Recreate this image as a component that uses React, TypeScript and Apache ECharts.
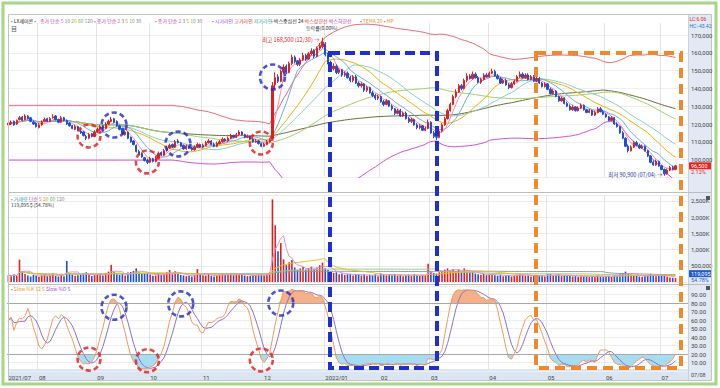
import React, { useEffect, useRef } from "react";
import * as echarts from "echarts";

// ---------- DATA (prices in thousands of won, volumes in thousands of shares) ----------
const monthDays: [string, number[]][] = [
  ["2021/07", [16, 19, 20, 21, 22, 23, 26, 27, 28, 29, 30]],
  ["2021/08", [2, 3, 4, 5, 6, 9, 10, 11, 12, 13, 17, 18, 19, 20, 23, 24, 25, 26, 27, 30, 31]],
  ["2021/09", [1, 2, 3, 6, 7, 8, 9, 10, 13, 14, 15, 16, 17, 23, 24, 27, 28, 29, 30]],
  ["2021/10", [1, 5, 6, 7, 8, 12, 13, 14, 15, 18, 19, 20, 21, 22, 25, 26, 27, 28, 29]],
  ["2021/11", [1, 2, 3, 4, 5, 8, 9, 10, 11, 12, 15, 16, 17, 18, 19, 22, 23, 24, 25, 26, 29, 30]],
  ["2021/12", [1, 2, 3, 6, 7, 8, 9, 10, 13, 14, 15, 16, 17, 20, 21, 22, 23, 24, 27, 28, 29, 30]],
  ["2022/01", [3, 4, 5, 6, 7, 10, 11, 12, 13, 14, 17, 18, 19, 20, 21, 24, 25, 26, 27, 28]],
  ["2022/02", [3, 4, 7, 8, 9, 10, 11, 14, 15, 16, 17, 18, 21, 22, 23, 24, 25, 28]],
  ["2022/03", [2, 3, 4, 7, 8, 10, 11, 14, 15, 16, 17, 18, 21, 22, 23, 24, 25, 28, 29, 30, 31]],
  ["2022/04", [1, 4, 5, 6, 7, 8, 11, 12, 13, 14, 15, 18, 19, 20, 21, 22, 25, 26, 27, 28, 29]],
  ["2022/05", [2, 3, 4, 6, 9, 10, 11, 12, 13, 16, 17, 18, 19, 20, 23, 24, 25, 26, 27, 30, 31]],
  ["2022/06", [2, 3, 7, 8, 9, 10, 13, 14, 15, 16, 17, 20, 21, 22, 23, 24, 27, 28, 29, 30]],
  ["2022/07", [1, 4, 5, 6, 7, 8]],
];

const opens = [
  119.5, 120, 121.5, 120, 122.5, 124, 122.5, 124.5, 123.5, 121, 120.5,
  118, 119.5, 121.5, 123, 121.5, 123.5, 124.5, 122.5, 121, 123.5, 122, 120.5, 119, 117, 118.5, 116, 115.5, 113, 112, 114.5, 113,
  115.5, 117, 119, 117.5, 120, 121.5, 123, 121.5, 119, 117.5, 114, 115.5, 112.5, 110.5, 108, 104.5, 103.5, 101, 99.5,
  98.5, 100.5, 99, 101, 104, 102.5, 105, 106.5, 108.5, 107, 110.5, 109.5, 108, 106, 107.5, 106.5, 105.5, 107, 108.5,
  107, 108, 109.5, 110.5, 108.5, 107.5, 109, 110, 111.5, 110.5, 112, 113.5, 112.5, 114, 115.5, 114, 112.5, 113, 111.5, 110, 110.5, 109,
  107.5, 108.5, 110, 112, 142, 146.5, 144, 149.5, 152.5, 149, 154, 157.5, 155.5, 153.5, 156, 158.5, 156.5, 159.5, 161.5, 158, 162.5, 163.5,
  165, 159, 154.5, 151, 152.5, 149, 150.5, 147.5, 148.5, 146, 144.5, 146.5, 143, 141.5, 142.5, 139, 140.5, 137.5, 136, 134.5,
  135.5, 132.5, 131, 133, 130, 128.5, 126, 127.5, 124.5, 126, 123, 121.5, 122.5, 119.5, 118, 119, 116.5, 117.5,
  121, 115, 113, 112.5, 116, 119.5, 123, 127.5, 131, 135.5, 138, 141.5, 140, 144.5, 147, 145.5, 148, 146, 143.5, 145, 147.5,
  146.5, 148.5, 149.5, 147, 145.5, 143, 144.5, 142, 140.5, 142.5, 144, 146.5, 148, 146, 147.5, 145, 146.5, 144, 145.5, 143, 141,
  142.5, 139.5, 137, 138.5, 135.5, 133, 134.5, 131.5, 130, 128, 129.5, 127.5, 129, 130.5, 128, 126.5, 127.5, 125, 126.5, 128.5, 127,
  125.5, 124, 122, 123.5, 120, 118.5, 115, 112, 107.5, 105, 107, 109.5, 108, 106.5, 107.5, 105, 102, 98.5, 97, 99,
  96.5, 94.5, 92, 94, 95.5, 94.5,
];

const closes = [
  120.5, 121, 119.5, 122, 123.5, 122, 124.5, 123, 121.5, 120, 118.5,
  119.5, 121, 122.5, 121.5, 123, 124, 122.5, 121, 123.5, 122, 120, 119, 117.5, 118.5, 116.5, 115, 113.5, 112, 114, 113, 115.5,
  117, 118.5, 117.5, 120, 121.5, 122.5, 121, 119, 117, 114.5, 115.5, 112, 110, 108.5, 104.5, 103, 101.5, 99.5, 98.5,
  100.5, 99, 101, 103.5, 102.5, 105, 106.5, 108, 107, 110, 109.5, 107.5, 106, 107.5, 106.5, 105.5, 107, 108.5, 107,
  108, 109.5, 110.5, 108.5, 107.5, 109, 110, 111.5, 110.5, 112, 113.5, 112.5, 114, 115.5, 114, 112.5, 113, 111.5, 110, 110.5, 109, 107.5,
  108.5, 110, 111, 141.5, 146, 144, 149.5, 152, 149, 154, 157.5, 155, 153.5, 156, 158.5, 156.5, 159.5, 161, 158, 162.5, 164, 166,
  159, 154.5, 151, 152.5, 149, 150.5, 147.5, 148.5, 146, 144.5, 146.5, 143, 141.5, 142.5, 139, 140.5, 137.5, 136, 134.5, 135.5,
  132.5, 131, 133, 130, 128.5, 126, 127.5, 124.5, 126, 123, 121.5, 122.5, 119.5, 118, 119, 116.5, 117.5, 121,
  115, 113, 112.5, 116, 119.5, 123, 127.5, 131, 135.5, 138, 141.5, 140, 144.5, 147, 145.5, 148, 146, 143.5, 145, 147.5, 146.5,
  148.5, 149.5, 147, 145.5, 143, 144.5, 142, 140.5, 142.5, 144, 146.5, 148, 146, 147.5, 145, 146.5, 144, 145.5, 143, 141, 142.5,
  139.5, 137, 138.5, 135.5, 133, 134.5, 131.5, 130, 128, 129.5, 127.5, 129, 130.5, 128, 126.5, 127.5, 125, 126.5, 128.5, 127, 125.5,
  124, 122, 123.5, 120, 118.5, 115, 112, 107.5, 105, 107, 109.5, 108, 106.5, 107.5, 105, 102, 98.5, 97, 99, 96.5,
  94.5, 92, 94, 95.5, 94.5, 96.5,
];

const highs = [
  121.5, 122, 122, 122.5, 124.5, 124.5, 125.5, 125, 124, 122, 121,
  120.5, 122, 123.5, 123.5, 124, 125.5, 125, 123, 124.5, 124, 122.5, 121, 119.5, 119.5, 119, 117, 116, 114, 115, 115, 116.5,
  118, 119.5, 119.5, 121, 122.5, 124, 123.5, 122, 119.5, 118, 116.5, 116, 113, 111, 108.5, 105.5, 104, 101.5, 100.5,
  101.5, 101, 102, 104.5, 104.5, 106, 107.5, 109, 109, 111, 111.5, 110, 108.5, 108.5, 108, 107, 108, 109.5, 109,
  109, 110.5, 111.5, 111, 109.5, 110, 111, 112.5, 112, 113, 114.5, 114, 115, 116.5, 116, 114.5, 114, 113.5, 112, 111.5, 111, 109.5,
  109.5, 111, 112, 143.5, 149, 148, 150.5, 153.5, 153.5, 155, 159, 158.5, 156, 157, 160, 159.5, 160.5, 162.5, 162, 163.5, 165.5, 168.5,
  166, 160, 155.5, 154, 153.5, 151.5, 151, 149.5, 149.5, 147, 147.5, 147.5, 144, 143.5, 143, 141.5, 141, 138.5, 137, 136.5,
  136, 133.5, 134, 133.5, 131, 129, 128.5, 128.5, 127, 127, 124, 123.5, 123, 120.5, 120, 119.5, 118.5, 122.5,
  121.5, 116, 114, 117, 120.5, 124, 128.5, 132, 136.5, 139.5, 142.5, 142.5, 145.5, 148.5, 148, 149.5, 149, 147, 146, 148.5, 148.5,
  149.5, 151, 150.5, 148, 146.5, 145.5, 145.5, 143, 143.5, 145, 147.5, 149.5, 149, 148.5, 148.5, 147.5, 147.5, 146.5, 146.5, 143.5, 143.5,
  143, 140.5, 139.5, 139, 136, 135.5, 135, 132.5, 131, 130.5, 130, 130, 131.5, 131, 128.5, 128.5, 128, 127.5, 129.5, 129.5, 128,
  126, 124.5, 124.5, 124, 121, 119, 116, 112.5, 108.5, 108, 110.5, 110.5, 109, 108.5, 108, 105.5, 102.5, 99.5, 100, 99.5,
  97, 95, 95, 96.5, 96.5, 97,
];

const lows = [
  119, 119.5, 119, 119.5, 122, 121.5, 122, 122.5, 121, 119.5, 118,
  117.5, 119, 121, 121, 121, 123, 122, 120.5, 120.5, 121.5, 119.5, 118.5, 117, 116.5, 116, 114.5, 113, 111, 111.5, 112.5, 112.5,
  115, 116.5, 117, 117, 119.5, 121, 120.5, 118.5, 116.5, 114, 113.5, 111.5, 109.5, 108, 104, 102.5, 101, 99, 97.5,
  98, 98.5, 98.5, 100.5, 102, 102, 104.5, 106, 106.5, 106.5, 109, 107, 105.5, 105.5, 106, 105, 105, 106.5, 106.5,
  106.5, 107.5, 109, 108, 107, 107, 108.5, 109.5, 110, 110, 111.5, 112, 112, 113.5, 113.5, 112, 112, 111, 109.5, 109.5, 108.5, 107,
  107, 108, 109.5, 111.5, 139.5, 143, 143.5, 148.5, 148, 148.5, 153, 154, 152.5, 152.5, 155.5, 155.5, 156, 158.5, 157, 157.5, 161.5, 162.5,
  158, 153.5, 150, 150, 148, 148, 146.5, 146.5, 145.5, 143.5, 143.5, 142.5, 140.5, 140.5, 138, 138, 137, 135, 133.5, 133.5,
  132, 130, 130.5, 129.5, 127.5, 125, 125.5, 124, 124, 122.5, 120.5, 120.5, 119, 117, 117, 116, 116, 117,
  114.5, 112, 111, 112, 115.5, 119, 122.5, 127, 130.5, 134.5, 137.5, 139, 139.5, 143.5, 145, 145, 145.5, 143, 142.5, 144.5, 146,
  146, 148, 146.5, 145, 142.5, 142.5, 141.5, 139.5, 140, 142, 143.5, 146, 145.5, 145.5, 144.5, 144.5, 143.5, 143.5, 142.5, 140.5, 140.5,
  139, 136.5, 136.5, 135, 132.5, 132.5, 131, 129.5, 127.5, 127.5, 127, 127, 128.5, 127.5, 126, 126, 124.5, 124.5, 126, 126.5, 125,
  123.5, 121.5, 121.5, 119.5, 118, 114.5, 111.5, 107, 104, 104.5, 106.5, 107.5, 106, 106, 104.5, 101.5, 98, 96.5, 96.5, 96,
  94, 90.9, 91.5, 93.5, 94, 94,
];

const volumes = [
  210, 180, 230, 190, 690, 320, 250, 200, 170, 220, 190,
  160, 210, 240, 180, 200, 260, 190, 170, 230, 180, 650, 280, 230, 190, 210, 240, 260, 300, 220, 180, 210,
  230, 260, 200, 280, 320, 530, 310, 240, 220, 260, 200, 290, 310, 340, 420, 300, 280, 260, 270,
  230, 190, 200, 260, 220, 270, 300, 370, 240, 330, 260, 220, 200, 180, 190, 170, 210, 400, 230,
  210, 200, 240, 190, 170, 210, 230, 260, 220, 240, 270, 210, 250, 280, 230, 200, 180, 190, 220, 200, 230, 240,
  210, 260, 300, 2550, 1750, 950, 1200, 700, 520, 610, 680, 450, 380, 420, 460, 380, 430, 470, 400, 450, 520, 600,
  420, 380, 330, 280, 300, 240, 260, 220, 240, 250, 200, 240, 230, 200, 240, 190, 220, 200, 240, 180,
  260, 230, 200, 220, 210, 250, 190, 220, 180, 210, 230, 180, 240, 210, 190, 220, 200, 560,
  330, 280, 260, 300, 350, 380, 420, 360, 400, 340, 380, 300, 420, 360, 290, 310, 260, 240, 220, 250, 210,
  230, 250, 210, 190, 220, 180, 200, 210, 170, 200, 230, 260, 210, 190, 200, 170, 190, 180, 200, 210, 170,
  240, 250, 190, 220, 240, 180, 210, 200, 210, 170, 180, 160, 190, 170, 170, 150, 180, 160, 200, 170, 150,
  180, 190, 160, 210, 200, 240, 280, 320, 260, 230, 210, 190, 170, 160, 190, 220, 250, 210, 180, 200,
  190, 230, 170, 140, 130, 119.095,
];

// right-axis price tick labels (thousands of won)
const priceTicks = [100, 110, 120, 130, 140, 150, 160, 170];

// dashed-circle annotations (category index, value)
const priceCircleIdx = [29, 38, 50, 61, 91, 95];
const priceCircleVal = [113.3, 119.4, 98.7, 108.8, 109.3, 146.4];
const priceCircleCol = ["red", "blue", "red", "blue", "red", "blue"];
const stochCircleIdx = [29, 38, 50, 62, 91, 98];
const stochCircleVal = [14, 75, 12, 79, 13, 80];
const stochCircleCol = ["red", "blue", "red", "blue", "red", "blue"];

// ---------- helpers ----------
const FONT = '"Noto Sans CJK KR", "Noto Sans", sans-serif';
const NUMFONT = 'Roboto, "Noto Sans", sans-serif';

const dates: string[] = monthDays.flatMap(([ym, ds]) =>
  ds.map((d) => `${ym}/${String(d).padStart(2, "0")}`)
);
const monthStart = new Set<number>();
{
  let k = 0;
  monthDays.forEach(([, ds], mi) => {
    if (mi > 0) monthStart.add(k);
    k += ds.length;
  });
}
const xData = [...dates, "+1", "+2", "+3", "+4"];

function sma(src: number[], n: number): number[] {
  const out: number[] = [];
  let sum = 0;
  for (let i = 0; i < src.length; i++) {
    sum += src[i];
    if (i >= n) sum -= src[i - n];
    out.push(+(sum / Math.min(i + 1, n)).toFixed(3));
  }
  return out;
}
function bands(src: number[], n: number, k: number) {
  const up: number[] = [];
  const lo: number[] = [];
  for (let i = 0; i < src.length; i++) {
    const s = Math.max(0, i - n + 1);
    const e = Math.max(i, n - 1);
    const w = src.slice(s, e + 1);
    const m = w.reduce((a, b) => a + b, 0) / w.length;
    const sd = Math.sqrt(w.reduce((a, b) => a + (b - m) * (b - m), 0) / w.length);
    up.push(+(m + k * sd).toFixed(3));
    lo.push(+(m - k * sd).toFixed(3));
  }
  return { up, lo };
}

const fastK = closes.map((c, i) => {
  const s = Math.max(0, i - 11);
  let hh = -Infinity;
  let ll = Infinity;
  for (let j = s; j <= i; j++) {
    hh = Math.max(hh, highs[j]);
    ll = Math.min(ll, lows[j]);
  }
  return hh === ll ? 50 : ((c - ll) / (hh - ll)) * 100;
});
const slowK = sma(fastK, 5);
const slowD = sma(slowK, 5);

const RED = "#e41f1b";
const BLUE = "#1d4fd8";

function buildOption(): any {
  const bb = bands(closes, 60, 2);
  const maLine = (data: number[], color: string, xi = 0, yi = 0, w = 1) => ({
    type: "line",
    xAxisIndex: xi,
    yAxisIndex: yi,
    data,
    symbol: "none",
    silent: true,
    lineStyle: { color, width: w },
    z: 3,
  });
  const mkX = (gi: number, showLabel: boolean) => ({
    type: "category",
    gridIndex: gi,
    data: xData,
    boundaryGap: true,
    axisLine: { show: false },
    axisTick: { show: false },
    axisLabel: showLabel
      ? {
          show: true,
          interval: (idx: number) => idx === 0 || monthStart.has(idx),
          formatter: (v: string, idx: number) => {
            if (idx === 0) return v.slice(0, 7);
            const m = v.slice(5, 7);
            return m === "01" ? v.slice(0, 7) : m;
          },
          fontSize: 6,
          fontFamily: NUMFONT,
          color: "#444",
          align: "left",
          margin: 3,
        }
      : { show: false },
    splitLine: {
      show: true,
      interval: (idx: number) => monthStart.has(idx),
      lineStyle: { color: "#e4e4e4", width: 1 },
    },
  });
  const yLab = { fontSize: 6, fontFamily: NUMFONT, color: "#444", margin: 3 };
  return {
    animation: false,
    backgroundColor: "#ffffff",
    textStyle: { fontFamily: FONT },
    grid: [
      { left: 7, right: 32, top: 17.2, height: 160.2 },
      { left: 7, right: 32, top: 195, height: 87 },
      { left: 7, right: 32, top: 286, height: 85 },
    ],
    xAxis: [mkX(0, false), mkX(1, false), mkX(2, true)],
    yAxis: [
      {
        type: "value",
        gridIndex: 0,
        position: "right",
        min: 90,
        max: 180,
        interval: 10,
        axisLine: { show: false },
        axisTick: { show: false },
        axisLabel: { show: false },
        splitLine: { lineStyle: { color: "#efefef" } },
      },
      {
        type: "value",
        gridIndex: 1,
        position: "right",
        min: 0,
        max: 2685,
        interval: 500,
        axisLine: { show: false },
        axisTick: { show: false },
        axisLabel: {
          ...yLab,
          formatter: (v: number) =>
            v === 0 || v > 2500 ? "" : v >= 1000 ? `${v.toLocaleString("en-US")}K` : (v * 1000).toLocaleString("en-US"),
        },
        splitLine: { lineStyle: { color: "#ececec" } },
      },
      {
        type: "value",
        gridIndex: 2,
        position: "right",
        min: 0,
        max: 100,
        interval: 10,
        axisLine: { show: false },
        axisTick: { show: false },
        axisLabel: {
          ...yLab,
          formatter: (v: number) => (v > 0 && v < 100 ? v.toFixed(2) : ""),
        },
        splitLine: { lineStyle: { color: "#eeeeee" } },
      },
    ],
    series: [
      maLine(bb.up, "#e46a78"),
      maLine(bb.lo, "#d44fd0"),
      maLine(sma(closes, 120), "#6e6b3a"),
      maLine(sma(closes, 60), "#9fcf6a"),
      maLine(sma(closes, 30), "#86cfc8"),
      maLine(sma(closes, 20), "#e8b400"),
      maLine(sma(closes, 10), "#6aaee6"),
      maLine(sma(closes, 5), "#f38fb5"),
      {
        type: "candlestick",
        xAxisIndex: 0,
        yAxisIndex: 0,
        barWidth: 1.8,
        z: 5,
        data: closes.map((c, i) => [opens[i], c, lows[i], highs[i]]),
        itemStyle: { color: RED, color0: BLUE, borderColor: RED, borderColor0: BLUE, borderWidth: 1 },
      },
      {
        type: "scatter",
        xAxisIndex: 0,
        yAxisIndex: 0,
        silent: true,
        z: 20,
        data: priceCircleIdx.map((ix, k) => ({
          value: [ix, priceCircleVal[k]],
          symbolSize: priceCircleCol[k] === "blue" ? 25 : 23,
          itemStyle: {
            color: "rgba(0,0,0,0)",
            borderColor: priceCircleCol[k] === "blue" ? "#1b2bc8" : "#e0191b",
            borderWidth: 2.6,
            borderType: [5, 3],
          },
        })),
      },
      // volume
      {
        type: "bar",
        xAxisIndex: 1,
        yAxisIndex: 1,
        barWidth: 1.6,
        data: volumes.map((v, i) => ({
          value: v,
          itemStyle: { color: closes[i] >= opens[i] ? RED : BLUE },
        })),
      },
      maLine(sma(volumes, 120), "#9a9a9a", 1, 1),
      maLine(sma(volumes, 60), "#8fcf8f", 1, 1),
      maLine(sma(volumes, 20), "#e6c21a", 1, 1),
      maLine(sma(volumes, 5), "#e58fd8", 1, 1),
      // stochastic fills
      {
        type: "line", xAxisIndex: 2, yAxisIndex: 2, stack: "hi", silent: true, symbol: "none",
        data: slowK.map(() => 80), lineStyle: { opacity: 0 },
      },
      {
        type: "line", xAxisIndex: 2, yAxisIndex: 2, stack: "hi", silent: true, symbol: "none",
        data: slowK.map((v) => Math.max(v - 80, 0)), lineStyle: { opacity: 0 },
        areaStyle: { color: "#f5b089", opacity: 1 },
      },
      {
        type: "line", xAxisIndex: 2, yAxisIndex: 2, stack: "lo", silent: true, symbol: "none",
        data: slowK.map((v) => Math.min(v, 20)), lineStyle: { opacity: 0 },
      },
      {
        type: "line", xAxisIndex: 2, yAxisIndex: 2, stack: "lo", silent: true, symbol: "none",
        data: slowK.map((v) => 20 - Math.min(v, 20)), lineStyle: { opacity: 0 },
        areaStyle: { color: "#a6dcf2", opacity: 1 },
      },
      {
        ...maLine(slowD, "#8f72c8", 2, 2),
        markLine: {
          silent: true,
          symbol: ["none", "none"],
          label: { show: false },
          lineStyle: { color: "#a8a8a8", width: 1, type: "solid" },
          data: [{ yAxis: 80 }, { yAxis: 20 }],
        },
      },
      maLine(slowK, "#f09a5a", 2, 2),
      {
        type: "scatter",
        xAxisIndex: 2,
        yAxisIndex: 2,
        silent: true,
        z: 20,
        data: stochCircleIdx.map((ix, k) => ({
          value: [ix, stochCircleVal[k]],
          symbolSize: stochCircleCol[k] === "blue" ? 25 : 23,
          itemStyle: {
            color: "rgba(0,0,0,0)",
            borderColor: stochCircleCol[k] === "blue" ? "#1b2bc8" : "#e0191b",
            borderWidth: 2.6,
            borderType: [5, 3],
          },
        })),
      },
    ],
  };
}

const COLORS: Record<string, string> = {
  g: "#777777", k: "#222222", m: "#c0399b", p: "#f06fa8", b: "#3a8fd8", y: "#d9a400",
  gr: "#5cad5c", gy: "#888888", v: "#a04cc8", r: "#e03030", t: "#2bb0a8", o: "#e39a1c",
  c: "#1ca0c8", n: "#1d2fa8",
};
function rich(fs: number) {
  const r: Record<string, any> = {};
  Object.keys(COLORS).forEach((k) => {
    r[k] = { fill: COLORS[k], fontSize: fs, fontFamily: FONT };
  });
  return r;
}
function txt(x: number, y: number, text: string, fs = 5, extra: any = {}) {
  return {
    type: "text",
    x,
    y,
    z: 60,
    silent: true,
    style: { text, rich: rich(fs), fontSize: fs, fontFamily: FONT, fill: "#333", verticalAlign: "middle", ...extra },
  };
}

function buildGraphics(chart: any): any[] {
  const last = closes.length - 1;
  const iHigh = highs.indexOf(Math.max(...highs));
  const iLow = lows.indexOf(Math.min(...lows));
  const hp = chart.convertToPixel({ gridIndex: 0 }, [iHigh, highs[iHigh]]);
  const lp = chart.convertToPixel({ gridIndex: 0 }, [iLow, lows[iLow]]);
  const py = chart.convertToPixel({ yAxisIndex: 0 }, closes[last]);
  const vy = chart.convertToPixel({ yAxisIndex: 1 }, volumes[last]);
  const fmt = (v: number) => Math.round(v * 1000).toLocaleString("en-US");
  const chg = (((closes[last] - closes[last - 1]) / closes[last - 1]) * 100).toFixed(2);

  const tickLabels = priceTicks.map((t) =>
    txt(691, chart.convertToPixel({ yAxisIndex: 0 }, t), fmt(t), 6, { fill: "#444", fontFamily: NUMFONT })
  );

  return [
    // backgrounds
    { type: "rect", z: -1, silent: true, shape: { x: 688, y: 15, width: 24, height: 365 }, style: { fill: "#e1eaf4" } },
    { type: "rect", z: -1, silent: true, shape: { x: 9, y: 369, width: 679, height: 11 }, style: { fill: "#dbe6f2" } },
    { type: "rect", z: 1, silent: true, shape: { x: 9, y: 15, width: 679, height: 8 }, style: { fill: "#ffffff" } },
    { type: "line", z: 50, silent: true, shape: { x1: 688.5, y1: 15, x2: 688.5, y2: 380 }, style: { stroke: "#c9d3de", lineWidth: 1 } },
    { type: "line", z: 50, silent: true, shape: { x1: 9, y1: 192.5, x2: 712, y2: 192.5 }, style: { stroke: "#bdbdbd", lineWidth: 1 } },
    { type: "line", z: 50, silent: true, shape: { x1: 9, y1: 284.5, x2: 712, y2: 284.5 }, style: { stroke: "#bdbdbd", lineWidth: 1 } },
    { type: "rect", z: 50, silent: true, shape: { x: 8.5, y: 14.5, width: 703, height: 366 }, style: { fill: "none", stroke: "#c4c4c4", lineWidth: 1 } },
    { type: "rect", z: 50, silent: true, shape: { x: 3, y: 3, width: 713, height: 381 }, style: { fill: "none", stroke: "#a6d68a", lineWidth: 3 } },
    ...tickLabels,
    // legends
    txt(11, 20, "{g|•} {k|LX세미콘} {g|•}"),
    txt(40, 20, "{m|종가 단순} {p|5} {b|10} {y|20} {gr|60} {gy|120}"),
    txt(94, 20, "{g|•} {m|종가 단순} {p|2} {b|3} {y|5} {gr|10} {gy|30}"),
    txt(155, 20, "{g|•} {m|종가 단순} {p|2} {b|3} {y|5} {gr|10} {gy|30}"),
    txt(212, 20, "{g|•} {v|시가라인} {r|고가라인} {t|저가라인}"),
    txt(271, 20, "{g|•} {k|박스중심선 24} {r|박스상한선} {m|박스하한선}"),
    txt(360, 20, "{g|•} {o|TEMA 20} {g|•} {o|MP}"),
    txt(11, 28, "目", 6, { fill: "#555" }),
    txt(306, 27, "등락률(0.00%)", 5, { fill: "#333" }),
    txt(hp[0] - 3, hp[1] + 2, `최고 ${fmt(highs[iHigh])} (${dates[iHigh].slice(5)}) →`, 5.5, { fill: "#e02020", align: "right" }),
    txt(lp[0] - 2, lp[1] - 1, `최저 ${fmt(lows[iLow])} (${dates[iLow].slice(5)}) →`, 5.5, { fill: "#2334b0", align: "right" }),
    txt(11, 198, "{g|•} {c|거래량} {m|단순} {p|5} {y|20} {gr|60} {gy|120}"),
    txt(11, 204, `${Math.round(volumes[last] * 1000).toLocaleString("en-US")}주(54.78%)`, 5, { fill: "#333" }),
    txt(11, 288.5, "{g|•} {o|Slow %K 12 5} {v|Slow %D 5}"),
    // right axis extras
    txt(689.5, 19, "LC:6.06", 5, { fill: "#e02020", fontFamily: NUMFONT }),
    txt(689.5, 25.5, "HC:-43.42", 5, { fill: "#2f6fd0", fontFamily: NUMFONT }),
    { type: "rect", z: 60, silent: true, shape: { x: 689, y: py - 3.5, width: 22, height: 7 }, style: { fill: "#e8231c" } },
    txt(691, py, fmt(closes[last]), 5.5, { fill: "#ffffff", fontFamily: NUMFONT }),
    txt(691, py + 6.5, `${chg}%`, 5.5, { fill: "#e02020", fontFamily: NUMFONT }),
    { type: "rect", z: 60, silent: true, shape: { x: 689, y: vy - 8, width: 22, height: 7 }, style: { fill: "#1f5bd6" } },
    txt(691, vy - 4.5, Math.round(volumes[last] * 1000).toLocaleString("en-US"), 5.5, { fill: "#ffffff", fontFamily: NUMFONT }),
    txt(691, vy + 1.5, "54.78%", 5.5, { fill: "#1f5bd6", fontFamily: NUMFONT }),
    txt(691, 375, dates[last].slice(5), 5.5, { fill: "#444", fontFamily: NUMFONT }),
    { type: "rect", z: 60, silent: true, shape: { x: 706, y: 196, width: 4, height: 4 }, style: { fill: "#555" } },
    { type: "rect", z: 60, silent: true, shape: { x: 706, y: 286, width: 4, height: 4 }, style: { fill: "#555" } },
    // dashed rectangles
    { type: "rect", z: 100, silent: true, shape: { x: 330, y: 53, width: 107, height: 315 },
      style: { fill: "none", stroke: "#1f2fd0", lineWidth: 4, lineDash: [10, 5] } },
    { type: "rect", z: 100, silent: true, shape: { x: 536, y: 53, width: 145, height: 315 },
      style: { fill: "none", stroke: "#f1892a", lineWidth: 4, lineDash: [10, 6] } },
  ];
}

export default function App() {
  const ref = useRef<HTMLDivElement>(null);
  useEffect(() => {
    if (!ref.current) return;
    const chart = echarts.init(ref.current, null, { renderer: "svg" });
    chart.setOption(buildOption());
    chart.setOption({ graphic: buildGraphics(chart) });
    return () => chart.dispose();
  }, []);
  return (
    <div
      ref={ref}
      style={{ position: "absolute", left: 0, top: 0, width: 720, height: 388, background: "#ffffff" }}
    />
  );
}
